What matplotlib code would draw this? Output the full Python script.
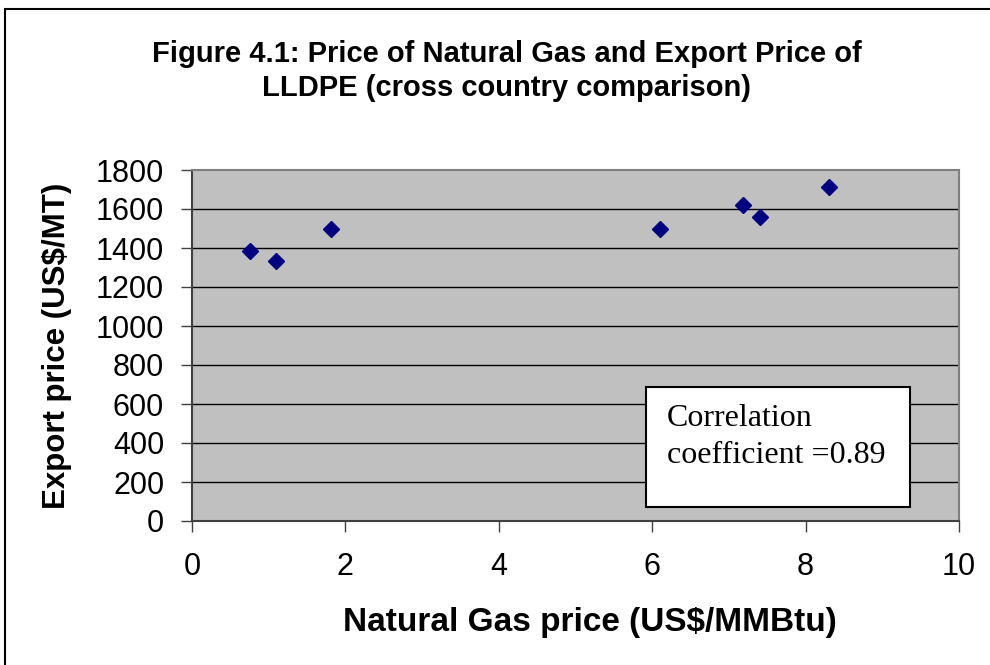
import matplotlib.pyplot as plt
import matplotlib.patches as patches

# natural gas price (US$/MMBtu) vs LLDPE export price (US$/MT)
gas_price = [0.76, 1.10, 1.81, 6.10, 7.19, 7.40, 8.31]
export_price = [1385, 1333, 1496, 1496, 1620, 1557, 1711]

x_ticks = [0, 2, 4, 6, 8, 10]
y_ticks = [0, 200, 400, 600, 800, 1000, 1200, 1400, 1600, 1800]

title = "Figure 4.1: Price of Natural Gas and Export Price of\nLLDPE (cross country comparison)"
note = "Correlation\ncoefficient =0.89"

plt.rcParams['font.family'] = ['Liberation Sans', 'DejaVu Sans']

fig = plt.figure(figsize=(9.9, 6.65), dpi=100)
ax = fig.add_axes([192 / 990, 1 - 521 / 665, 767 / 990, 351 / 665])

# outer frame, runs off the right and bottom edge like in the original
fig.patches.append(patches.Rectangle((5 / 990, -0.1), 1.2, 1.1 - 9 / 665,
                                     transform=fig.transFigure, fill=False,
                                     edgecolor='black', linewidth=1.5))

ax.set_facecolor('#c0c0c0')
for y in y_ticks[1:-1]:
    ax.axhline(y, color='black', linewidth=1.0, zorder=1)

ax.plot(gas_price, export_price, 'D', color='#000080', markersize=8,
        linestyle='none', zorder=3)

ax.set_xlim(0, 10)
ax.set_ylim(0, 1800)
ax.set_xticks(x_ticks)
ax.set_yticks(y_ticks)
ax.tick_params(axis='both', labelsize=22, length=8, width=1, color='#404040')
ax.tick_params(axis='y', pad=12)
ax.tick_params(axis='x', pad=14)

for side in ['left', 'top', 'right', 'bottom']:
    ax.spines[side].set_color('#808080')
    ax.spines[side].set_linewidth(1.5)
ax.spines['left'].set_color('#404040')
ax.spines['bottom'].set_color('#404040')

ax.set_xlabel("Natural Gas price (US$/MMBtu)", fontsize=24, fontweight='bold')
ax.xaxis.label.set_va('center')
ax.xaxis.set_label_coords(0.519, (521 - 622) / 351)
ax.set_ylabel("Export price (US$/MT)", fontsize=22.5, fontweight='bold')
ax.yaxis.label.set_va('center')
ax.yaxis.set_label_coords((57 - 192) / 767, 0.5)

fig.text(507 / 990, 1 - 71 / 665, title, ha='center', va='center',
         fontsize=21, fontweight='bold', linespacing=1.3)

# correlation box
ax.add_patch(patches.Rectangle((0.592, 0.04), 0.344, 0.342, transform=ax.transAxes,
                               facecolor='white', edgecolor='black', linewidth=1.5,
                               zorder=4))
ax.text(0.619, 0.24, note, transform=ax.transAxes, ha='left', va='center',
        fontsize=23, family=['Liberation Serif', 'DejaVu Serif'],
        linespacing=1.38, zorder=5)

fig.savefig("out.png", dpi=100)
